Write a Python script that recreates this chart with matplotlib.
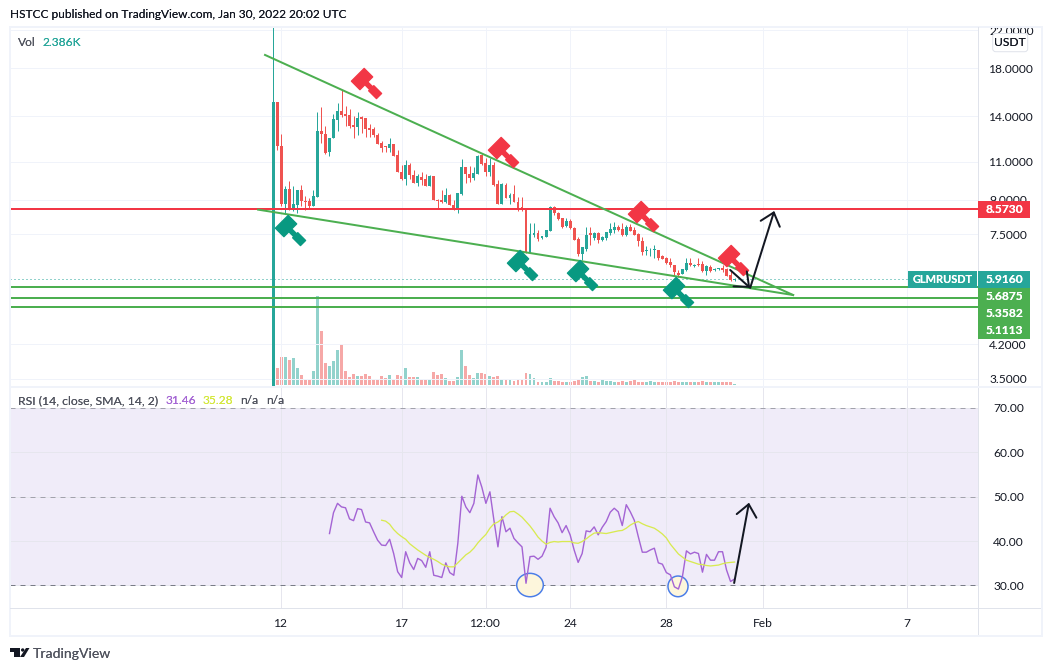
import numpy as np
import matplotlib
matplotlib.use("Agg")
import matplotlib.pyplot as plt
from matplotlib.patches import Rectangle, Ellipse, FancyBboxPatch, Polygon, Circle
from matplotlib.path import Path
from matplotlib.markers import MarkerStyle
from matplotlib.transforms import Affine2D

# ---------- data ----------
opens = [2.0,15.1,11.97,8.82,9.54,8.62,8.78,9.50,8.96,8.93,8.70,9.12,12.95,12.75,11.56,12.47,13.73,14.40,14.17,14.10,
         13.37,13.23,13.90,13.87,13.16,13.09,12.66,12.16,11.93,11.82,12.09,11.42,10.44,10.05,10.80,10.28,9.84,10.15,10.05,9.70,
         10.19,9.01,9.01,8.88,9.25,8.78,8.62,9.30,10.72,10.33,10.12,10.33,11.42,10.93,10.42,10.80,9.79,8.82,9.74,9.09,
         9.30,8.88,8.65,8.53,6.80,7.48,7.55,7.36,7.42,7.62,8.69,8.39,8.17,7.85,8.07,7.75,7.33,6.77,6.95,7.55,
         7.36,7.55,7.29,7.36,7.55,7.68,7.82,7.71,7.47,7.82,7.68,7.51,7.23,6.87,6.90,6.90,6.92,6.70,6.62,6.47,
         6.39,6.12,6.10,6.23,6.45,6.36,6.43,6.43,6.17,6.31,6.22,6.24,6.29,6.26,6.07,5.90]
highs = [30.0,15.1,12.73,9.71,9.92,9.71,9.50,9.76,9.17,9.09,9.50,14.33,14.66,13.30,12.49,14.16,15.02,16.08,14.77,14.50,
         14.02,14.33,14.02,13.87,13.44,13.21,12.84,12.30,11.97,12.47,12.09,11.68,10.80,11.12,10.93,10.55,10.32,10.41,10.32,10.28,
         10.19,9.05,9.50,9.58,9.30,9.01,9.33,11.16,10.72,10.74,10.70,11.42,11.48,11.22,11.22,11.02,10.01,9.86,9.84,9.33,
         9.76,9.14,9.12,8.55,7.96,7.96,7.68,7.45,7.68,8.72,8.72,8.46,8.20,8.17,8.12,7.80,7.42,6.98,7.82,7.82,
         7.60,7.58,7.45,7.60,7.96,8.00,7.89,7.96,7.89,7.93,7.79,7.55,7.42,7.04,6.98,7.10,6.92,6.72,6.65,6.62,
         6.39,6.23,6.25,6.62,6.62,6.42,6.62,6.51,6.39,6.39,6.27,6.30,6.39,6.29,6.23,5.95]
lows = [2.0,11.72,8.70,8.40,8.55,8.47,8.42,8.70,8.55,8.62,8.70,9.12,12.18,11.46,11.32,12.47,12.95,13.90,13.30,13.13,
        12.49,12.70,12.80,12.53,12.57,12.53,12.09,11.56,11.56,11.56,11.36,10.41,9.98,9.76,10.05,9.84,9.71,9.76,9.70,9.70,
        9.01,8.62,8.85,8.85,8.75,8.55,8.42,9.25,9.84,9.89,10.01,10.30,10.82,10.19,10.19,9.71,8.82,8.82,9.07,8.83,
        8.88,8.50,8.50,6.80,6.80,7.40,7.23,7.33,7.40,7.62,8.31,8.10,7.75,7.79,7.70,7.27,6.68,6.56,6.86,7.10,
        7.30,7.16,7.25,7.30,7.49,7.55,7.62,7.45,7.45,7.62,7.49,7.04,6.74,6.74,6.68,6.62,6.56,6.58,6.42,6.33,
        6.01,5.98,6.08,6.20,6.36,6.31,6.36,6.14,6.05,6.14,6.20,6.22,6.15,6.04,5.87,5.88]
closes = [15.1,11.97,8.82,9.54,8.62,8.82,9.50,8.93,8.88,8.70,9.17,12.95,12.75,11.52,12.49,13.80,14.40,14.07,14.02,13.30,
          13.23,13.87,13.80,13.09,13.02,12.64,12.09,11.85,11.87,12.09,11.36,10.41,10.05,10.80,10.28,9.84,10.23,10.01,9.70,10.19,
          9.01,8.93,8.88,9.25,8.75,8.62,9.33,10.72,10.33,10.12,10.37,11.36,10.89,10.44,10.80,9.76,8.82,9.79,9.09,9.25,
          8.88,8.55,8.53,6.80,7.51,7.55,7.33,7.45,7.66,8.69,8.39,8.13,7.82,8.07,7.75,7.27,6.77,7.01,7.49,7.49,
          7.55,7.29,7.42,7.58,7.71,7.82,7.68,7.47,7.82,7.65,7.49,7.23,6.83,6.92,6.92,6.93,6.62,6.60,6.45,6.39,
          6.14,6.07,6.25,6.45,6.39,6.40,6.39,6.17,6.34,6.20,6.26,6.28,6.21,6.04,5.91,5.916]
volumes = [100,41,67,67,60,65,41,24,14,12,34,214,130,53,46,58,84,96,34,19,
           26,22,22,26,22,12,14,22,17,24,14,24,22,41,19,19,19,14,12,14,
           31,24,26,17,10,10,19,84,46,24,17,29,29,26,22,19,22,14,14,14,
           10,12,14,29,27,16,8,6,8,16,10,10,8,6,8,10,14,18,22,10,
           9,6,11,10,10,6,7,10,8,9,11,8,8,8,10,8,8,8,8,8,
           9,8,8,8,6,6,8,9,7,6,6,6,6,7,7,2.386]
rsi_first_bar = 14
rsi_values = [41.7,46.4,48.5,47.7,47.5,45.0,44.6,47.3,47.1,44.3,44.1,42.1,40.2,39.1,39.0,40.4,37.2,33.1,31.8,37.6,
              35.1,33.6,36.1,35.6,34.1,37.6,32.3,32.1,31.8,35.1,32.9,32.3,39.5,50.1,47.7,46.4,48.5,54.9,52.1,48.5,
              51.1,44.7,38.7,45.5,42.1,42.9,40.6,39.6,38.7,30.5,36.5,36.6,35.9,36.6,38.6,47.4,45.5,44.1,41.9,43.5,
              41.4,38.0,35.2,37.2,42.3,42.1,43.2,41.4,43.1,44.4,46.5,47.4,46.6,43.5,48.2,46.6,44.7,41.0,37.5,37.5,
              38.0,38.4,35.1,34.8,32.9,32.4,29.7,29.2,32.0,37.8,37.1,37.5,37.2,33.0,37.0,35.7,35.7,37.6,37.6,33.5,
              30.9,31.46]
sma_first_bar = 27
sma_values = [44.7,44.5,43.8,42.6,41.7,41.0,40.4,39.4,38.7,38.0,37.4,36.8,36.3,35.9,35.4,34.8,34.4,34.2,34.2,35.1,
              36.0,36.9,37.5,38.4,39.6,40.6,41.5,42.9,43.9,44.3,45.0,45.9,46.6,46.7,46.1,45.4,44.4,43.4,42.2,40.9,
              40.0,39.3,39.7,39.9,39.8,39.9,39.9,39.9,39.6,39.5,39.9,40.5,41.2,41.8,41.9,41.8,41.7,41.9,42.1,42.3,
              42.4,42.9,43.6,44.1,44.4,43.9,43.5,43.2,42.9,42.3,41.6,40.7,39.3,38.2,37.1,36.4,35.7,35.4,35.1,34.8,
              34.7,34.5,34.4,34.5,34.6,34.9,35.1,35.2,35.28]

price_ticks = [22, 18, 14, 11, 9, 7.5, 4.2, 3.5]
rsi_ticks = [70, 60, 50, 40, 30]
date_bars = [2, 32, 53, 74, 98, 122, 158]
date_labels = ["12", "17", "12:00", "24", "28", "Feb", "7"]

red_level = 8.573
green_levels = [5.6875, 5.3582, 5.1113]
last_price = 5.916
upper_trend_bar, upper_trend_price = [-2.07, 129.6], [19.33, 5.45]
lower_trend_bar, lower_trend_price = [-3.8, 129.6], [8.55, 5.45]
red_gavel_bar, red_gavel_price = [23.1, 57.3, 92.1, 114.6], [16.67, 11.59, 8.27, 6.56]
green_gavel_bar, green_gavel_price = [4.2, 62.0, 76.9, 101.0], [7.68, 6.39, 6.06, 5.54]
arrow1_bar, arrow1_price = [113.9, 118.9], [6.22, 5.66]
arrow2_bar, arrow2_price = [118.9, 124.9], [5.66, 8.49]
rsi_arrow_bar, rsi_arrow_val = [114.9, 118.6], [30.56, 48.65]
circle_bar, circle_rsi, circle_w, circle_h = [64.0, 100.9], [30.1, 29.8], [6.63, 5.0], [5.27, 4.66]

# ---------- style ----------
W, H = 1052, 671
TEAL, RED = "#26a69a", "#ef5350"
LINE_RED, GREEN = "#f23645", "#4caf50"
GRID = "#f0f3fa"
SEP = "#e0e3eb"
INK = "#131722"
plt.rcParams["font.family"] = ["Lato", "Open Sans", "DejaVu Sans"]
PX = 0.72  # points per pixel at dpi 100
FS = 12 * PX

fig = plt.figure(figsize=(W / 100, H / 100), dpi=100, facecolor="white")
px = Affine2D().scale(1, -1).translate(0, H)


def axes_px(x0, y0, x1, y1, **kw):
    return fig.add_axes([x0 / W, 1 - y1 / H, (x1 - x0) / W, (y1 - y0) / H], **kw)


L, R = 10, 978
XLIM = (-65.66, 175.7)
ax_vol = axes_px(L, 27, R, 386, zorder=1)
ax = axes_px(L, 27, R, 386, zorder=2)
ax_rsi = axes_px(L, 388, R, 608, zorder=2)

bars = np.arange(len(closes))
o, h, l, c = map(np.array, (opens, highs, lows, closes))
colors = np.where(c >= o, TEAL, RED)

# volume
ax_vol.bar(bars, volumes, width=0.72, color=colors, alpha=0.5, linewidth=0)
ax_vol.set_xlim(*XLIM)
ax_vol.set_ylim(-2.4, 859)
ax_vol.axis("off")

# price
ax.patch.set_alpha(0)
ax.set_yscale("log")
ax.set_xlim(*XLIM)
ax.set_ylim(3.373, 22.4)
ax.yaxis.tick_right()
ax.set_yticks(price_ticks)
ax.set_yticklabels([f"{t:.4f}" for t in price_ticks], fontsize=FS, color=INK, ha="left")
ax.minorticks_off()
ax.set_xticks(date_bars)
ax.tick_params(axis="both", length=0, labelbottom=False, pad=8)
ax.grid(True, color=GRID, lw=1 * PX, zorder=0)
ax.set_axisbelow(True)
for s in ax.spines.values():
    s.set_visible(False)

ax.vlines(bars, l, h, colors=colors, lw=1 * PX, zorder=3)
bot = np.minimum(o, c)
top = np.maximum(o, c)
ax.bar(bars, top - bot, bottom=bot, width=0.72, color=colors, linewidth=0, zorder=4)

# levels
ax.axhline(last_price, color=TEAL, lw=1 * PX, ls=(0, (1, 3)), zorder=2)
ax.axhline(red_level, color=LINE_RED, lw=2 * PX, zorder=5)
for g in green_levels:
    ax.axhline(g, color=GREEN, lw=2 * PX, zorder=5)
ax.plot(upper_trend_bar, upper_trend_price, color=GREEN, lw=2 * PX, zorder=5)
ax.plot(lower_trend_bar, lower_trend_price, color=GREEN, lw=2 * PX, zorder=5)

# gavel marker (handle pointing down-right), centred on its bounding box
_u = np.array([-12.3, -0.3, -0.3, 6.7, 6.7, 17.7, 17.7, 6.7, 6.7, -0.3, -0.3, -12.3], float)
_v = np.array([-9, -9, -2, -2, -3.6, -3.6, 3.6, 3.6, 2, 2, 9, 9], float)
_verts = np.column_stack(((_u + _v) / np.sqrt(2), (-_u + _v) / np.sqrt(2)))
gavel = MarkerStyle(Path(np.vstack([_verts, _verts[0]]), closed=True), joinstyle="round")
ax.plot(red_gavel_bar, red_gavel_price, ls="", marker=gavel, ms=21.7, mfc=LINE_RED, mec=LINE_RED, mew=1.0, zorder=6)
ax.plot(green_gavel_bar, green_gavel_price, ls="", marker=gavel, ms=21.7, mfc="#089981", mec="#089981", mew=1.0, zorder=6)

ARROW = dict(arrowstyle="->,head_length=0.95,head_width=0.8", color=INK, lw=2 * PX,
             mutation_scale=9, shrinkA=0, shrinkB=0)
for bx, py in ((arrow1_bar, arrow1_price), (arrow2_bar, arrow2_price)):
    ax.annotate("", xy=(bx[1], py[1]), xytext=(bx[0], py[0]), arrowprops=ARROW, zorder=7)

# RSI
ax_rsi.set_xlim(*XLIM)
ax_rsi.set_ylim(24.93, 74.48)
ax_rsi.axhspan(30, 70, color="#f0ecf9", lw=0, zorder=0)
ax_rsi.yaxis.tick_right()
ax_rsi.set_yticks(rsi_ticks)
ax_rsi.set_yticklabels([f"{t:.2f}" for t in rsi_ticks], fontsize=FS, color=INK, ha="left")
ax_rsi.set_xticks(date_bars)
ax_rsi.set_xticklabels(date_labels, fontsize=FS, color=INK)
ax_rsi.tick_params(axis="y", length=0, pad=11)
ax_rsi.tick_params(axis="x", length=0, pad=7)
ax_rsi.grid(True, color="#e6e6ee", lw=1 * PX, zorder=1)
ax_rsi.set_axisbelow(True)
for s in ax_rsi.spines.values():
    s.set_visible(False)
for lv, col in ((70, "#a2a2ac"), (50, "#a2a2ac"), (30, "#787b86")):
    ax_rsi.axhline(lv, color=col, lw=1 * PX, ls=(0, (5, 5)), zorder=2)
for bx, by, bw, bh in zip(circle_bar, circle_rsi, circle_w, circle_h):
    ax_rsi.add_patch(Ellipse((bx, by), bw, bh, fc="#fdf6dc", ec="#4a7de8", lw=1.5 * PX, zorder=2.5, clip_on=False))
ax_rsi.plot(np.arange(len(rsi_values)) + rsi_first_bar, rsi_values, color="#a464d4", lw=1.4 * PX, zorder=3)
ax_rsi.plot(np.arange(len(sma_values)) + sma_first_bar, sma_values, color="#d8ea50", lw=1.3 * PX, zorder=3)
ax_rsi.annotate("", xy=(rsi_arrow_bar[1], rsi_arrow_val[1]), xytext=(rsi_arrow_bar[0], rsi_arrow_val[0]),
                arrowprops=ARROW, zorder=7)


# ---------- chrome ----------
def rect(x0, y0, x1, y1, z=10, **kw):
    fig.add_artist(Rectangle((x0, y0), x1 - x0, y1 - y0, transform=px, zorder=z, lw=kw.pop("lw", 0), **kw))


def label(x, y, s, color=INK, ha="left", size=FS, z=12, **kw):
    fig.add_artist(fig.text(x, y, s, transform=px, color=color, ha=ha, va="center", fontsize=size, zorder=z, **kw))


rect(9, 20, 1043, 27.5, fc="white")                     # clips the topmost price label
rect(9.5, 26.5, 1041.5, 635.5, fc="none", ec=GRID, lw=2 * PX)
rect(978, 27, 979, 635, fc=SEP)
rect(10, 608, 1041, 609, fc=SEP)
rect(10, 386, 1041, 388, fc=GRID)

fig.add_artist(FancyBboxPatch((992.7, 33.5), 35, 18.2, boxstyle="round,pad=0,rounding_size=3", transform=px,
                              fc="white", ec=SEP, lw=1 * PX, zorder=11))
label(1010.2, 43, "USDT", ha="center")

rect(978, 201, 1030, 218, fc=LINE_RED)
label(1004, 209.5, "8.5730", "white", "center", weight="bold")
rect(908, 271, 977, 288, fc=TEAL)
label(942.5, 279.5, "GLMRUSDT", "white", "center", size=11 * PX, weight="bold")
rect(978, 271, 1030, 288, fc=TEAL)
label(1004, 279.5, "5.9160", "white", "center", weight="bold")
rect(978, 288, 1030, 339, fc=GREEN)
for yy, g in zip((297, 313.5, 330), green_levels):
    label(1004, yy, f"{g:.4f}", "white", "center", weight="bold")

label(10, 15, "HSTCC published on TradingView.com, Jan 30, 2022 20:02 UTC", size=11.85 * PX)
label(18, 42, "Vol", "#50535e")
label(42, 42, "2.386K", TEAL)
label(18, 401, "RSI (14, close, SMA, 14, 2)", "#50535e", size=12.2 * PX)
label(166, 401, "31.46", "#a464d4")
label(203, 401, "35.28", "#d4e83c")
label(240, 401, "n/a", "#50535e")
label(266, 401, "n/a", "#50535e")
label(33, 653.5, "TradingView", "#50535e", size=14 * PX)

# TradingView logo
for pts in ([(10, 648), (19.5, 648), (19.5, 657), (14, 657), (14, 651.5), (10, 651.5)],
            [(20, 657), (26, 648), (29.5, 648), (24, 657)]):
    fig.add_artist(Polygon(pts, closed=True, transform=px, fc=INK, lw=0, zorder=11))
fig.add_artist(Circle((22.7, 650), 1.7, transform=px, fc=INK, lw=0, zorder=11))

fig.savefig("out.png", dpi=100, facecolor="white")
